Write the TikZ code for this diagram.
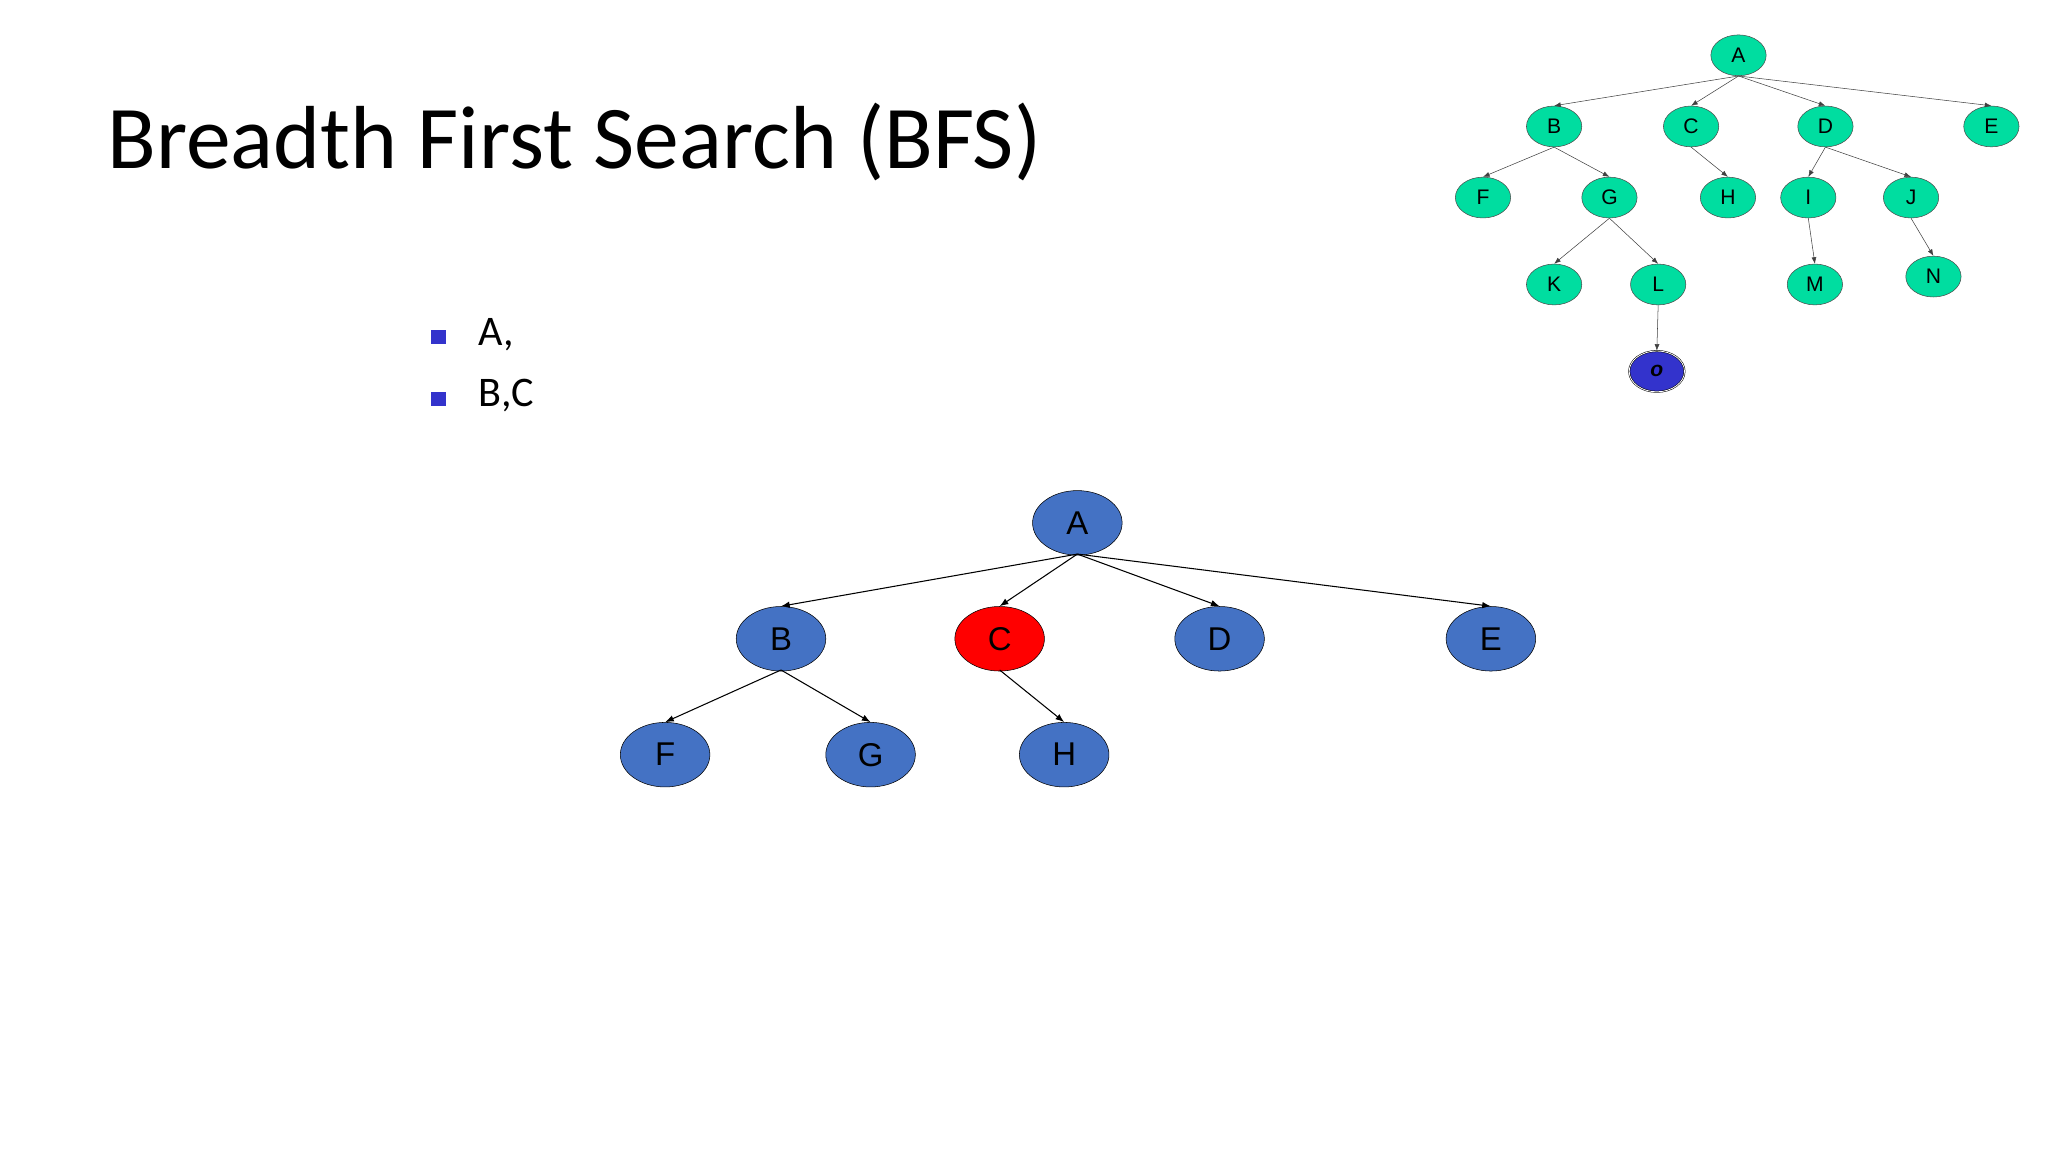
\documentclass[tikz,border=0pt]{standalone}
\usepackage{fontspec}
\setmainfont{Carlito}
\newfontfamily\nodefont{Liberation Sans}
\usetikzlibrary{arrows.meta,positioning,shapes.geometric}
\definecolor{bignode}{HTML}{4472C4}
\definecolor{smallnode}{HTML}{00DDA0}
\definecolor{goalnode}{HTML}{3333CC}
\tikzset{
  >=Latex,
}
\begin{document}
\begin{tikzpicture}[x=1pt,y=-1pt,
    big/.style={ellipse, draw=black, fill=bignode, minimum width=68pt, minimum height=49pt, inner sep=0pt, font=\nodefont\fontsize{25}{25}\selectfont},
    small/.style={ellipse, draw=black!70, fill=smallnode, minimum width=42pt, minimum height=31pt, inner sep=0pt, font=\nodefont\fontsize{16}{16}\selectfont},
    bullet/.style={fill=goalnode, minimum size=11pt, inner sep=0pt},
  ]
  \useasboundingbox (0,0) rectangle (1555,875);
  \node [anchor=base west, font=\fontsize{68}{68}\selectfont] (title) at (78,128) {Breadth First Search (BFS)};
  % bullets
  \node [bullet] (b1) at (333,256) {};
  \node [bullet] (b2) at (333,303) {};
  \node [anchor=west, font=\fontsize{32}{32}\selectfont] at (360,254) {A,};
  \node [anchor=west, font=\fontsize{32}{32}\selectfont] at (360,300) {B,C};
  % main tree
  \node [big] (A) at (818,397) {A};
  \node [big] (B) at (593,485) {B};
  \node [big, fill=red] (C) at (759,485) {C};
  \node [big] (D) at (926,485) {D};
  \node [big] (E) at (1132,485) {E};
  \node [big] (F) at (505,573) {F};
  \node [big] (G) at (661,573) {G};
  \node [big] (H) at (808,573) {H};
  \foreach \p/\c in {A/B,A/C,A/D,A/E,B/F,B/G,C/H}
    \draw [->, thick] ([yshift=1pt]\p.south) -- (\c.north);
  % small tree
  \node [small] (a) at (1320,42) {A};
  \node [small] (b) at (1180,96) {B};
  \node [small] (c) at (1284,96) {C};
  \node [small] (d) at (1386,96) {D};
  \node [small] (e) at (1512,96) {E};
  \node [small] (f) at (1126,150) {F};
  \node [small] (g) at (1222,150) {G};
  \node [small] (h) at (1312,150) {H};
  \node [small] (i) at (1373,150) {I};
  \node [small] (j) at (1451,150) {J};
  \node [small] (k) at (1180,216) {K};
  \node [small] (l) at (1259,216) {L};
  \node [small] (m) at (1378,216) {M};
  \node [small] (n) at (1468,210) {N};
  \node [small, fill=goalnode, double, draw=black, font=\nodefont\fontsize{16}{16}\selectfont\bfseries\itshape] (o) at (1258,282) {o};
  \foreach \p/\c in {a/b,a/c,a/d,a/e,b/f,b/g,c/h,d/i,d/j,g/k,g/l,i/m,j/n,l/o}
    \draw [->, >={Latex[length=5pt]}, black!75] (\p.south) -- (\c.north);
\end{tikzpicture}
\end{document}
